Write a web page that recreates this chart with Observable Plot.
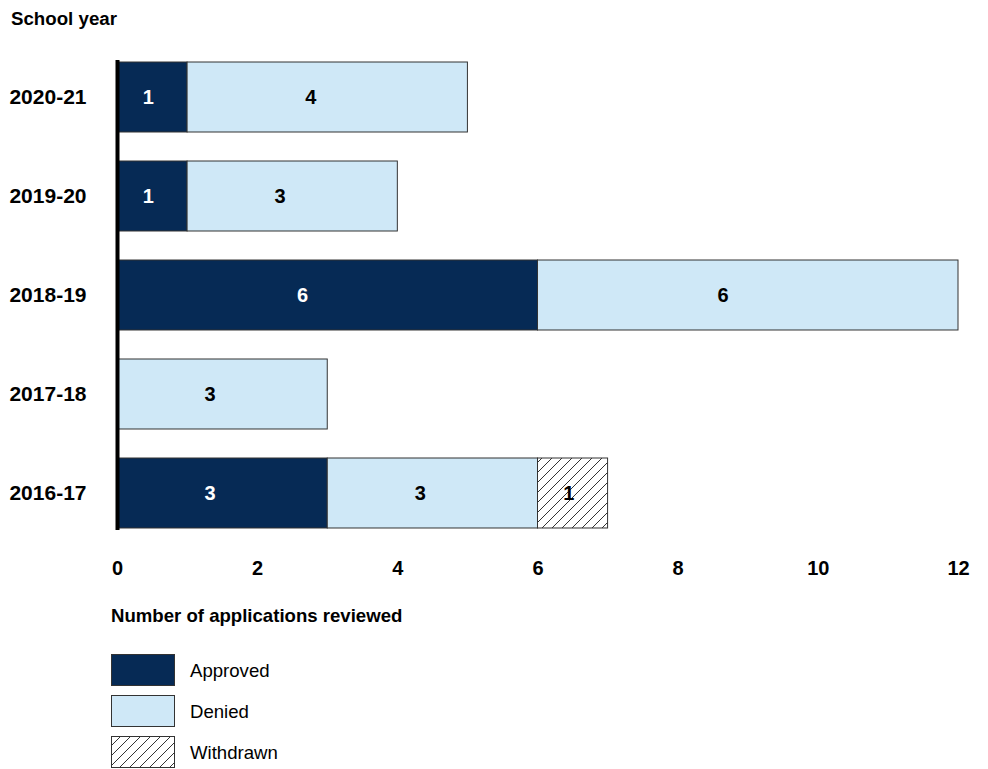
<!DOCTYPE html>
<html>
<head>
<meta charset="utf-8">
<script src="https://cdn.jsdelivr.net/npm/d3@7"></script>
<script src="https://cdn.jsdelivr.net/npm/@observablehq/plot@0.6"></script>
<style>
  body { margin: 0; background: #fff; font-family: "Liberation Sans", Arial, sans-serif; }
  #wrap { position: relative; width: 988px; height: 769px; }
  .abs { position: absolute; color: #000; }
  .sw { position: absolute; left: 111px; width: 62px; height: 30px; border: 1px solid #333; }
  .lab { position: absolute; left: 190px; font-size: 18.6px; line-height: 20px; }
</style>
</head>
<body>
<svg width="0" height="0" style="position:absolute">
  <defs>
    <pattern id="hatch" patternUnits="userSpaceOnUse" width="10" height="10">
      <rect width="10" height="10" fill="#fff"></rect>
      <path d="M0,10 L10,0 M-2,2 L2,-2 M8,12 L12,8" stroke="#333" stroke-width="1"></path>
    </pattern>
  </defs>
</svg>
<div id="wrap">
  <div class="abs" style="left:11px; top:9px; font-size:18.7px; line-height:20px; font-weight:bold;">School year</div>
  <div id="chart" class="abs" style="left:0; top:0;"></div>
  <div class="abs" style="left:111px; top:606px; font-size:18.6px; line-height:20px; font-weight:bold;">Number of applications reviewed</div>
  <div class="sw" style="top:654px; background:#062a55;"></div>
  <div class="lab" style="top:661px;">Approved</div>
  <div class="sw" style="top:695px; background:#cfe8f7;"></div>
  <div class="lab" style="top:702px;">Denied</div>
  <svg class="abs" style="left:111px; top:736px;" width="64" height="32"><rect x="0.5" y="0.5" width="63" height="31" fill="url(#hatch)" stroke="#333"></rect></svg>
  <div class="lab" style="top:743px;">Withdrawn</div>
</div>
<script>
const years = ["2020-21", "2019-20", "2018-19", "2017-18", "2016-17"];
const statuses = ["Approved", "Denied", "Withdrawn"];
const approved = [1, 1, 6, 0, 3];
const denied = [4, 3, 6, 3, 3];
const withdrawn = [0, 0, 0, 0, 1];
const xTicks = [0, 2, 4, 6, 8, 10, 12];

const series = [approved, denied, withdrawn];
const data = [];
years.forEach((y, i) => {
  let start = 0;
  statuses.forEach((s, j) => {
    const v = series[j][i];
    if (v > 0) data.push({year: y, status: s, value: v, start});
    start += v;
  });
});

const fills = {Approved: "#062a55", Denied: "#cfe8f7", Withdrawn: "url(#hatch)"};
const textFill = {Approved: "#fff", Denied: "#000", Withdrawn: "#000"};

const chart = Plot.plot({
  width: 988,
  height: 590,
  marginLeft: 117,
  marginRight: 30,
  marginTop: 33,
  marginBottom: 33,
  style: {fontFamily: "'Liberation Sans', Arial, sans-serif", fontSize: "20px", fontWeight: "bold", color: "#000", background: "transparent"},
  x: {domain: [0, 12], ticks: xTicks, tickSize: 0, tickPadding: 3, label: null},
  y: {domain: years, padding: 0.293, round: false, tickSize: 0, tickPadding: 31, label: null, fontSize: 21},
  marks: [
    Plot.axisY({tickSize: 0, tickPadding: 31, fontSize: 21, fontWeight: "bold", label: null}),
    Plot.axisX({ticks: xTicks, tickSize: 0, tickPadding: 3, fontSize: 20, fontWeight: "bold", label: null}),
    Plot.barX(data, Plot.stackX({
      x: "value", y: "year", z: "status", order: statuses,
      fill: d => fills[d.status], stroke: "#333", strokeWidth: 1
    })),
    Plot.text(data, {
      x: d => d.start + d.value * 0.44, y: "year",
      text: d => String(d.value), fill: d => textFill[d.status],
      fontSize: 20, fontWeight: "bold"
    }),
    Plot.ruleX([0], {stroke: "#000", strokeWidth: 4, insetTop: 27, insetBottom: 27})
  ]
});
document.getElementById("chart").appendChild(chart);
</script>
</body>
</html>
